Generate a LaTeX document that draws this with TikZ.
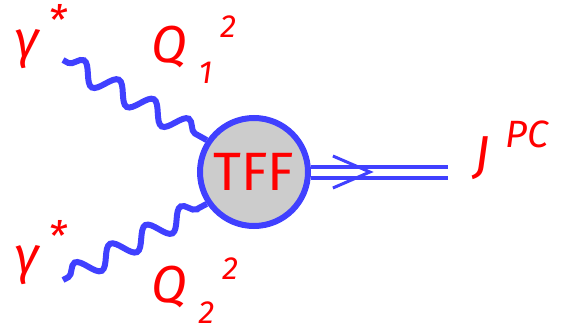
\documentclass[tikz,border=0pt]{standalone}
\usepackage{fontspec}
\setmainfont{Fira Sans}
\usetikzlibrary{arrows.meta, positioning, calc, decorations.pathmorphing}
\definecolor{lineblue}{RGB}{64,64,255}
\definecolor{lblred}{RGB}{255,0,0}
\definecolor{blobgray}{RGB}{204,204,204}
\newcommand{\smallfs}{\fontsize{32}{38}\selectfont}
\tikzset{
    blobnode/.style={circle, draw=lineblue, fill=blobgray, line width=6pt, minimum size=108pt, inner sep=0pt, text=lblred, font=\fontsize{54}{60}\selectfont},
    photon/.style={draw=lineblue, line width=6pt, decorate, decoration={snake, segment length=40pt, amplitude=10pt, pre length=6pt, post length=4pt}},
    mesonline/.style={draw=lineblue, line width=4pt, double=white, double distance=7pt},
    chevron/.style={draw=lineblue, line width=3pt},
    biglabel/.style={text=lblred, inner sep=0pt, anchor=base west, font=\itshape\fontsize{52}{60}\selectfont}
}

\begin{document}
\begin{tikzpicture}[x=1pt, y=1pt]
  \useasboundingbox (0,0) rectangle (562,333);
  \node[blobnode] (blob) at (254,161) {TFF};
  \coordinate (g1) at (63,273);
  \coordinate (g2) at (63,53);
  \coordinate (jend) at (448,161);
  \draw[photon] (g1) -- (blob.146);
  \draw[photon] (g2) -- (blob.214);
  \draw[mesonline] (blob.east) -- coordinate[pos=0.43] (tip) (jend);
  \draw[chevron] ($(tip)+(-37,16)$) -- (tip) -- ($(tip)+(-37,-16)$);
  \node[biglabel] (gam1) at (14,276) {γ\hspace{10pt}\raisebox{22pt}{\fontsize{42}{48}\selectfont *}};
  \node[biglabel] (gam2) at (14,60) {γ\hspace{10pt}\raisebox{22pt}{\fontsize{42}{48}\selectfont *}};
  \node[biglabel] (q1) at (151,271) {Q\hspace{12pt}\raisebox{-21pt}{\smallfs 1}\hspace{8pt}\raisebox{25pt}{\smallfs 2}};
  \node[biglabel] (q2) at (151,31) {Q\hspace{12pt}\raisebox{-21pt}{\smallfs 2}\hspace{8pt}\raisebox{23pt}{\smallfs 2}};
  \node[biglabel] (jpc) at (474,161) {J\hspace{16pt}\raisebox{25pt}{\fontsize{38}{44}\selectfont PC}};
\end{tikzpicture}
\end{document}
